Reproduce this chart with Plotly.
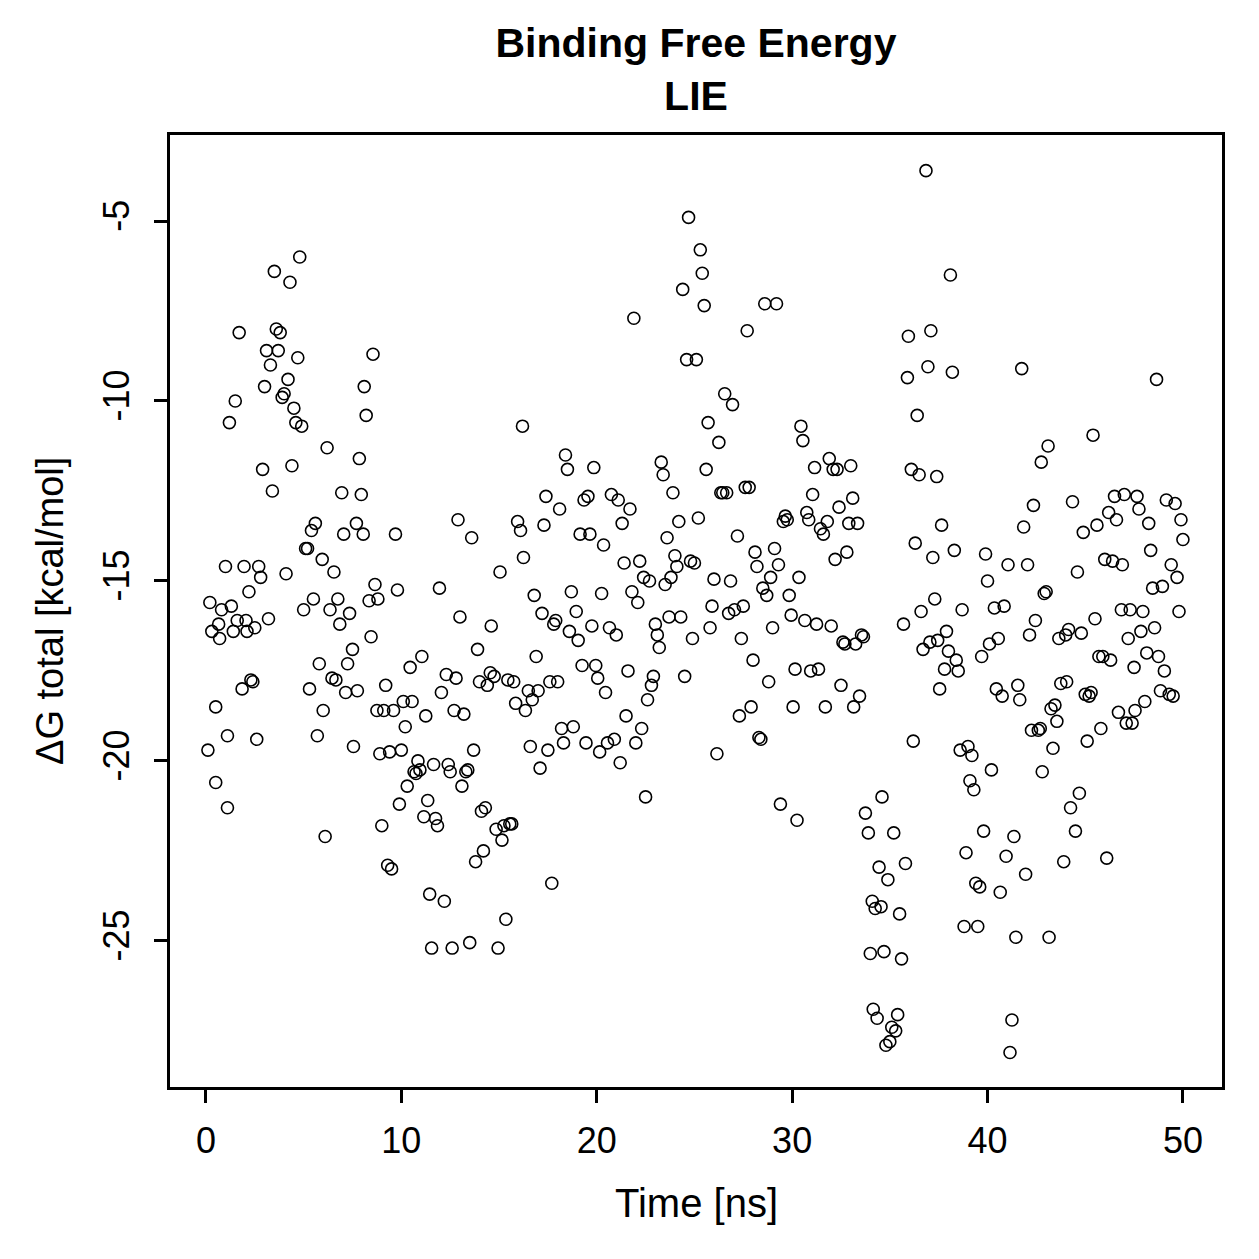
import plotly.graph_objects as go

time_ns = [
0.1,0.2,0.3,0.5,0.5,0.65,0.7,0.8,1.0,1.1,1.1,1.2,1.3,1.4,1.5,1.6,1.7,1.85,1.95,2.05,
2.1,2.2,2.3,2.4,2.5,2.6,2.7,2.8,2.9,3.0,3.1,3.2,3.3,3.4,3.5,3.6,3.7,3.8,3.9,4.0,
4.2,4.1,4.3,4.4,4.5,4.6,4.7,4.8,4.9,5.0,5.1,5.2,5.3,5.4,5.5,5.6,5.7,5.8,5.95,6.0,
6.1,6.2,6.35,6.45,6.55,6.65,6.75,6.85,6.95,7.05,7.15,7.25,7.35,7.5,7.55,7.7,7.75,7.85,7.95,8.05,
8.1,8.2,8.35,8.45,8.55,8.65,8.75,8.8,8.9,9.0,9.1,9.2,9.3,9.4,9.5,9.6,9.7,9.8,9.9,10.0,
10.1,10.2,10.3,10.45,10.55,10.65,10.75,10.85,10.95,11.05,11.15,11.25,11.35,11.45,11.55,11.65,11.75,11.85,11.95,12.05,
12.2,12.3,12.4,12.5,12.6,12.7,12.8,12.9,13.0,13.1,13.2,13.3,13.4,13.5,13.6,13.7,13.8,13.9,14.0,14.1,
14.2,14.3,14.4,14.55,14.6,14.75,14.85,14.95,15.05,15.15,15.25,15.35,15.45,15.55,15.65,15.75,15.85,15.95,16.1,16.2,
16.25,16.35,16.5,16.6,16.7,16.8,16.9,17.0,17.1,17.2,17.3,17.4,17.5,17.6,17.7,17.8,17.9,18.0,18.1,18.2,
18.3,18.4,18.5,18.6,18.7,18.8,18.95,19.05,19.15,19.25,19.35,19.45,19.55,19.65,19.75,19.85,19.95,20.05,20.15,20.25,
20.35,20.45,20.55,20.65,20.75,20.9,21.0,21.1,21.2,21.3,21.4,21.5,21.6,21.7,21.8,21.9,22.0,22.1,22.2,22.3,
22.4,22.5,22.6,22.7,22.8,22.9,23.0,23.1,23.2,23.3,23.4,23.5,23.6,23.7,23.8,23.9,24.0,24.1,24.2,24.3,
24.4,24.5,24.6,24.7,24.8,24.9,25.0,25.1,25.2,25.3,25.4,25.5,25.6,25.7,25.8,25.9,26.0,26.15,26.25,26.35,
26.45,26.55,26.65,26.75,26.85,26.95,27.05,27.2,27.3,27.4,27.5,27.6,27.7,27.8,27.9,28.0,28.1,28.2,28.3,28.4,
28.5,28.6,28.7,28.8,28.9,29.0,29.1,29.2,29.3,29.4,29.55,29.65,29.75,29.85,29.95,30.05,30.15,30.25,30.35,30.45,
30.55,30.65,30.75,30.85,30.95,31.05,31.15,31.25,31.35,31.45,31.6,31.7,31.8,31.9,32.0,32.1,32.2,32.3,32.4,32.5,
32.6,32.7,32.8,32.9,33.0,33.1,33.15,33.25,33.35,33.45,33.55,33.65,33.75,33.9,34.0,34.1,34.15,34.25,34.35,34.45,
34.55,34.6,34.7,34.8,34.9,35.0,35.1,35.2,35.3,35.4,35.5,35.6,35.7,35.8,35.9,35.95,36.1,36.2,36.3,36.4,
36.5,36.6,36.7,36.85,36.95,37.05,37.1,37.2,37.3,37.4,37.45,37.55,37.65,37.8,37.9,38.0,38.1,38.2,38.3,38.4,
38.5,38.6,38.7,38.8,38.9,39.0,39.1,39.2,39.3,39.4,39.5,39.6,39.7,39.8,39.9,40.0,40.1,40.2,40.35,40.45,
40.55,40.65,40.75,40.85,40.95,41.05,41.15,41.25,41.35,41.45,41.55,41.65,41.75,41.85,41.95,42.05,42.15,42.25,42.35,42.45,
42.6,42.7,42.75,42.8,42.9,43.0,43.1,43.15,43.25,43.35,43.45,43.55,43.65,43.75,43.9,44.0,44.05,44.15,44.25,44.35,
44.5,44.6,44.7,44.8,44.9,45.0,45.1,45.2,45.3,45.4,45.5,45.6,45.7,45.8,45.9,46.0,46.1,46.2,46.3,46.4,
46.5,46.6,46.7,46.85,46.9,47.0,47.1,47.2,47.3,47.4,47.5,47.55,47.65,47.75,47.85,47.95,48.05,48.15,48.25,48.35,
48.45,48.55,48.65,48.75,48.85,48.95,49.05,49.15,49.3,49.4,49.5,49.6,49.7,49.8,49.9,50.0]

dg_total = [
-19.7,-15.6,-16.4,-20.6,-18.5,-16.2,-16.6,-15.8,-14.6,-21.3,-19.3,-10.6,-15.7,-16.4,-10.0,-16.1,-8.1,-18.0,-14.6,-16.1,
-16.4,-15.3,-17.75,-17.8,-16.3,-19.4,-14.6,-14.9,-11.9,-9.6,-8.6,-16.05,-9.0,-12.5,-6.4,-8.0,-8.6,-8.1,-9.9,-9.8,
-9.4,-14.8,-6.7,-11.8,-10.2,-10.6,-8.8,-6.0,-10.7,-15.8,-14.1,-14.1,-18.0,-13.6,-15.5,-13.4,-19.3,-17.3,-14.4,-18.6,
-22.1,-11.3,-15.8,-17.7,-14.75,-17.75,-15.5,-16.2,-12.55,-13.7,-18.1,-17.3,-15.9,-16.9,-19.6,-13.4,-18.05,-11.6,-12.6,-13.7,
-9.6,-10.4,-15.55,-16.55,-8.7,-15.1,-18.6,-15.5,-19.8,-21.8,-18.6,-17.9,-22.9,-19.75,-23.0,-18.6,-13.7,-15.25,-21.2,-19.7,
-18.35,-19.05,-20.7,-17.4,-18.35,-20.3,-20.35,-20.0,-20.25,-17.1,-21.55,-18.75,-21.1,-23.7,-25.2,-20.1,-21.6,-21.8,-15.2,-18.1,
-23.9,-17.6,-20.1,-20.3,-25.2,-18.6,-17.7,-13.3,-16.0,-20.7,-18.7,-20.3,-20.25,-25.05,-13.8,-19.7,-22.8,-16.9,-17.8,-21.4,
-22.5,-21.3,-17.9,-17.55,-16.25,-17.65,-21.9,-25.2,-14.75,-22.2,-21.8,-24.4,-17.75,-21.75,-21.75,-17.8,-18.4,-13.35,-13.6,-10.7,
-14.35,-18.6,-18.05,-19.6,-18.3,-15.4,-17.1,-18.05,-20.2,-15.9,-13.45,-12.65,-19.7,-17.8,-23.4,-16.2,-16.1,-17.8,-13.0,-19.1,
-19.5,-11.5,-11.9,-16.4,-15.3,-19.05,-15.85,-16.65,-13.7,-17.35,-12.75,-19.5,-12.65,-13.7,-16.25,-11.85,-17.35,-17.7,-19.75,-15.35,
-14.0,-18.1,-19.5,-16.3,-12.6,-19.4,-16.5,-12.75,-20.05,-13.4,-14.5,-18.75,-17.5,-13.0,-15.3,-7.7,-19.5,-15.6,-14.45,-19.1,
-14.9,-21.0,-18.3,-15.0,-17.9,-17.65,-16.2,-16.5,-16.85,-11.7,-12.05,-15.1,-13.8,-16.0,-14.9,-12.55,-14.3,-14.6,-13.35,-16.0,
-6.9,-17.65,-8.85,-4.9,-14.45,-16.6,-14.5,-8.85,-13.25,-5.8,-6.45,-7.35,-11.9,-10.6,-16.3,-15.7,-14.95,-19.8,-11.15,-12.55,
-12.55,-9.8,-12.55,-15.9,-15.0,-10.1,-15.8,-13.75,-18.75,-16.6,-15.7,-12.4,-8.05,-12.4,-18.5,-17.2,-14.2,-14.6,-19.35,-19.4,
-15.2,-7.3,-15.4,-17.8,-14.9,-16.3,-14.1,-7.3,-14.55,-21.2,-13.35,-13.2,-13.3,-15.4,-15.95,-18.5,-17.45,-21.65,-14.9,-10.7,
-11.1,-16.1,-13.1,-13.3,-17.5,-12.6,-11.85,-16.2,-17.45,-13.55,-13.7,-18.5,-13.35,-11.6,-16.25,-11.9,-14.4,-11.9,-12.95,-17.9,
-16.7,-16.75,-14.2,-13.4,-11.8,-12.7,-18.5,-16.75,-13.4,-18.2,-16.5,-16.55,-21.45,-22.0,-25.35,-23.9,-26.9,-24.1,-27.15,-22.95,
-24.05,-21.0,-25.3,-27.9,-23.3,-27.8,-27.4,-22.0,-27.5,-27.05,-24.25,-25.5,-16.2,-22.85,-9.35,-8.2,-11.9,-19.45,-13.95,-10.4,
-12.05,-15.85,-16.9,-3.6,-9.05,-16.7,-8.05,-14.35,-15.5,-12.1,-16.65,-18.0,-13.45,-17.45,-16.4,-16.95,-6.5,-9.2,-14.15,-17.2,
-17.5,-19.7,-15.8,-24.6,-22.55,-19.6,-20.55,-19.85,-20.8,-23.4,-24.6,-23.5,-17.1,-21.95,-14.25,-15.0,-16.75,-20.25,-15.75,-18.0,
-16.6,-23.65,-18.2,-15.7,-22.65,-14.55,-28.1,-27.2,-22.1,-24.9,-17.9,-18.3,-9.1,-13.5,-23.15,-14.55,-16.5,-19.15,-12.9,-16.1,
-19.15,-19.1,-11.7,-20.3,-15.35,-15.3,-11.25,-24.9,-18.55,-19.65,-18.45,-18.9,-16.6,-17.85,-22.8,-16.5,-17.8,-16.35,-21.3,-12.8,
-21.95,-14.75,-20.9,-16.45,-13.65,-18.15,-19.45,-18.2,-18.1,-10.95,-16.05,-13.45,-17.1,-19.1,-17.1,-14.4,-22.7,-13.1,-17.2,-14.45,
-12.65,-13.3,-18.65,-15.8,-14.55,-12.6,-18.95,-16.6,-15.8,-18.95,-17.4,-18.6,-12.65,-13.0,-16.4,-15.85,-18.35,-17.0,-13.4,-14.15,
-15.2,-16.3,-9.4,-17.1,-18.05,-15.15,-17.5,-12.75,-18.15,-14.55,-18.2,-12.85,-14.9,-15.85,-13.3,-13.85]

x_ticks = [0, 10, 20, 30, 40, 50]
y_ticks = [-5, -10, -15, -20, -25]
y_tick_text = ["-5", "-10", "-15", "-20", "-25"]

FONT = "Liberation Sans, Arial, Helvetica, sans-serif"

fig = go.Figure()
fig.add_trace(go.Scatter(
    x=time_ns, y=dg_total, mode="markers",
    marker=dict(symbol="circle-open", size=12, color="black", line=dict(width=1.6, color="black")),
    showlegend=False, hoverinfo="x+y",
))

fig.update_layout(
    width=1259, height=1259,
    margin=dict(l=170, r=37, t=135, b=172),
    paper_bgcolor="white", plot_bgcolor="white",
    font=dict(family=FONT, color="black", size=36),
    title=dict(text="<b>Binding Free Energy</b><br><b>LIE</b>", x=(170 + 1222) / 2 / 1259, xanchor="center",
               y=1 - 57 / 1259, yanchor="top", font=dict(size=41, family=FONT, color="black")),
)
fig.update_xaxes(
    range=[-1.84, 52.0], tickvals=x_ticks, ticks="outside", ticklen=13, tickwidth=2.5, tickcolor="black",
    showline=True, linewidth=2.5, linecolor="black", mirror=True, showgrid=False, zeroline=False,
    tickfont=dict(size=36, family=FONT), ticklabelstandoff=7,
)
fig.update_yaxes(
    range=[-29.06, -2.61], tickvals=y_ticks, ticktext=y_tick_text, tickangle=-90,
    ticks="outside", ticklen=13, tickwidth=2.5, tickcolor="black",
    showline=True, linewidth=2.5, linecolor="black", mirror=True, showgrid=False, zeroline=False,
    tickfont=dict(size=36, family=FONT), ticklabelstandoff=11,
)
fig.add_annotation(text="Time [ns]", xref="paper", yref="paper", x=0.5, y=-(1203 - 1087) / 952,
                   yanchor="middle", showarrow=False, font=dict(size=40, family=FONT))
fig.add_annotation(text="ΔG total [kcal/mol]", xref="paper", yref="paper", x=-(170 - 50) / 1052, y=0.5,
                   xanchor="center", yanchor="middle", textangle=-90, showarrow=False, font=dict(size=38, family=FONT))

fig.write_html("out.html")
